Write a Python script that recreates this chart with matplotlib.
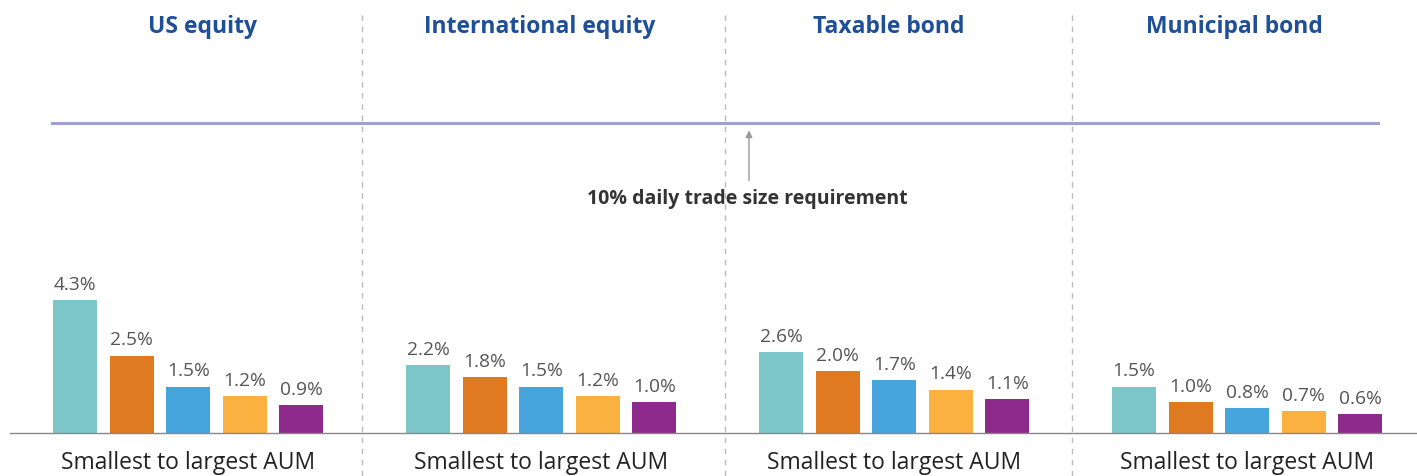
import matplotlib.pyplot as plt

# Data (percent of daily trade size)
groups = ['US equity', 'International equity', 'Taxable bond', 'Municipal bond']
us_equity = [4.3, 2.5, 1.5, 1.2, 0.9]
intl_equity = [2.2, 1.8, 1.5, 1.2, 1.0]
taxable_bond = [2.6, 2.0, 1.7, 1.4, 1.1]
muni_bond = [1.5, 1.0, 0.8, 0.7, 0.6]
series = [us_equity, intl_equity, taxable_bond, muni_bond]
bar_colors = ['#7cc5c9', '#e07a20', '#47a5dd', '#fbb13f', '#8f2a8d']
threshold = 10
threshold_label = '10% daily trade size requirement'
axis_label = 'Smallest to largest AUM'

plt.rcParams['font.family'] = ['Open Sans', 'DejaVu Sans']

fig = plt.figure(figsize=(14.17, 4.76), dpi=100)
ax = fig.add_axes([0, 0, 1, 1])
px_per_pct = 31.0
ax.set_xlim(0, 1417)
ax.set_ylim(-43 / px_per_pct, (476 - 43) / px_per_pct)
ax.axis('off')

# layout (pixel-like x units)
group_start = 53
group_step = 353
pitch = 56.6
width = 44
title_x = [202, 540, 889, 1234]
dividers = [362, 725, 1072]

for g, vals in enumerate(series):
    x0 = group_start + g * group_step
    xs = [x0 + i * pitch + width / 2 for i in range(len(vals))]
    ax.bar(xs, vals, width=width, color=bar_colors, zorder=3)
    for x, v in zip(xs, vals):
        ax.text(x, v + 0.2, f'{v:.1f}%', ha='center', va='bottom',
                fontsize=13.8, color='#555555')
    center = (xs[0] + xs[-1]) / 2
    ax.text(center, -0.97, axis_label, ha='center', va='center',
            fontsize=16.5, color='#222222')
    ax.text(title_x[g], 13.1, groups[g], ha='center', va='center',
            fontsize=16.5, fontweight='bold', color='#1e4f99')

# baseline
ax.plot([10, 1417], [0, 0], color='#888888', linewidth=1.0, zorder=4)

# divider lines
top = (476 - 15 - 43) / px_per_pct
for d in dividers:
    ax.plot([d, d], [ax.get_ylim()[0], top], color='#bbbbbb',
            linewidth=1.0, linestyle=(0, (4, 4)), zorder=1)

# 10% requirement line
ax.plot([52, 1378], [threshold, threshold], color='#a09fd2',
        linewidth=2.2, zorder=2)
ax.annotate('', xy=(749, 9.85), xytext=(749, 8.05),
            arrowprops=dict(arrowstyle='-|>', color='#999999', lw=1.0,
                            mutation_scale=10))
ax.text(747, 7.55, threshold_label, ha='center', va='center',
        fontsize=14, fontweight='bold', color='#333333')

fig.savefig('out.png', dpi=100)
